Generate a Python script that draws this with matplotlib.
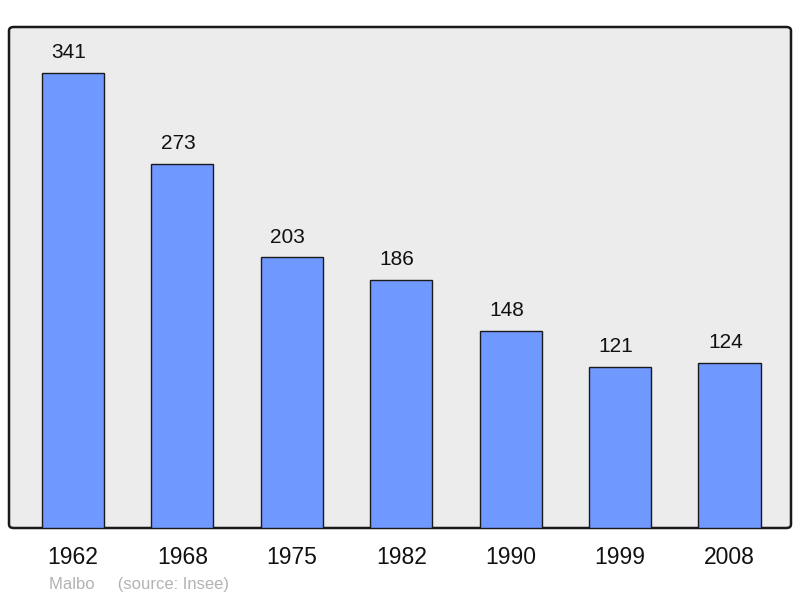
import matplotlib
matplotlib.use("Agg")
import matplotlib.pyplot as plt
from matplotlib.patches import FancyBboxPatch

years = ["1962", "1968", "1975", "1982", "1990", "1999", "2008"]
population = [341, 273, 203, 186, 148, 121, 124]
caption = "Malbo     (source: Insee)"

plt.rcParams['font.family'] = ['Liberation Sans', 'DejaVu Sans']

fig = plt.figure(figsize=(8, 5.98), dpi=100)
L, R, T, B = 9/800, 791/800, 1 - 27/598, 1 - 528/598
ax = fig.add_axes([L, B, R - L, T - B])
ax.set_facecolor('none')
ax.set_zorder(3)

# rounded frame background
frame = FancyBboxPatch((L, B), R - L, T - B, boxstyle="round,pad=0,rounding_size=0.006",
                       transform=fig.transFigure, facecolor='#ececec', edgecolor='#1a1a1a',
                       linewidth=1.8, zorder=0)
fig.patches.append(frame)

x = list(range(len(years)))
ax.bar(x, population, width=0.567, color='#7099ff', edgecolor='#1a1a1a', linewidth=1.0, zorder=2)
for xi, v in zip(x, population):
    ax.annotate(str(v), (xi, v), xytext=(-3, 14.5), textcoords='offset points',
                ha='center', va='center', fontsize=15, color='#111111')

ax.set_xlim(-0.585, 6.562)
ax.set_ylim(0, 375.5)
for s in ax.spines.values():
    s.set_visible(False)
ax.set_yticks([])
ax.set_xticks(x)
ax.set_xticklabels(years, fontsize=16.5, color='#111111')
ax.tick_params(axis='x', length=0, pad=13)

fig.text(49/800, 1 - 584/598, caption, fontsize=12, color='#b3b3b3', ha='left', va='center')

fig.savefig("out.png", dpi=100)
